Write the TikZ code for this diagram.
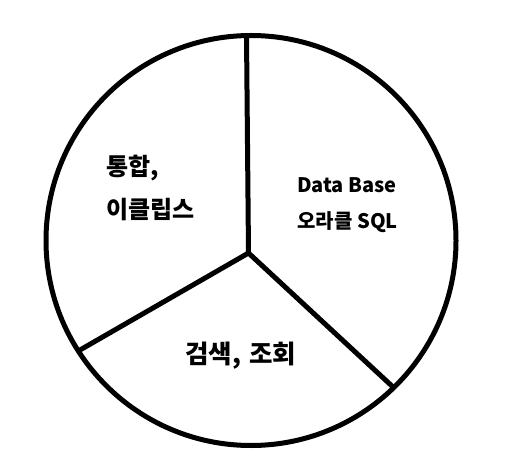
\documentclass[tikz,border=0pt]{standalone}
\usepackage{fontspec}
\setmainfont{Noto Sans CJK KR}
\begin{document}
\begin{tikzpicture}[x=1pt,y=-1pt,
  lbl/.style={anchor=west,inner sep=0pt,font=\bfseries\fontsize{24}{28}\selectfont},
  lblsm/.style={anchor=west,inner sep=0pt,font=\bfseries\fontsize{20}{24}\selectfont},
  lblbig/.style={anchor=west,inner sep=0pt,font=\bfseries\fontsize{25.5}{29}\selectfont},
  part/.style={line width=5pt,line cap=round}]
\useasboundingbox (0,0) rectangle (505,470);
\coordinate (c) at (251,240.5);
\coordinate (m) at (248.5,253);
\coordinate (t) at (246.5,35.5);
\coordinate (l) at (80,350);
\coordinate (r) at (393,387);
\draw[line width=5pt] (c) circle[radius=205];
\draw[part] (m) -- (t);
\draw[part] (m) -- (l);
\draw[part] (m) -- (r);
\node[lbl] (a1) at (106,168) {통합,};
\node[lbl] (a2) at (106,210) {이클립스};
\node[lblsm] (b1) at (297,185) {Data Base};
\node[lblsm] (b2) at (297,222) {오라클\hspace{0.25em}SQL};
\node[lblbig] (c1) at (185,356) {검색,\hspace{0.1em} 조회};
\end{tikzpicture}
\end{document}
